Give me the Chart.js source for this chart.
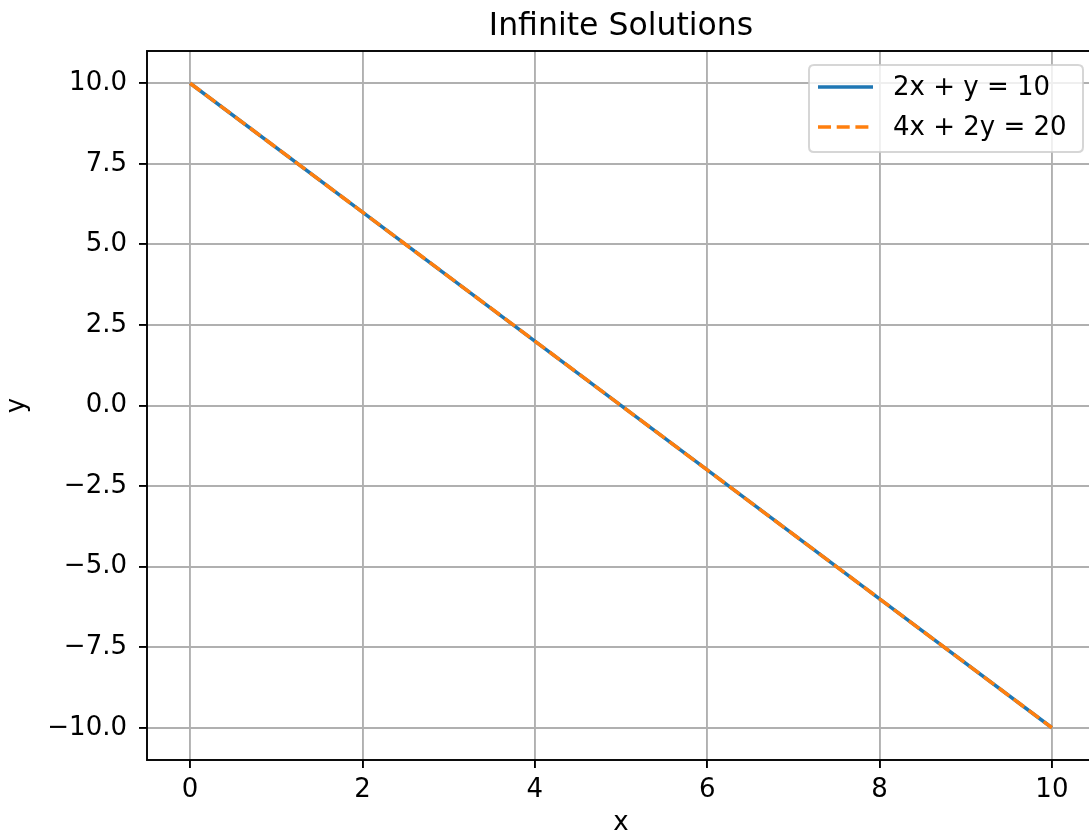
<!DOCTYPE html>
<html>
<head>
<meta charset="utf-8">
<script src="https://cdn.jsdelivr.net/npm/chart.js@4.4.1/dist/chart.umd.min.js"></script>
<style>
html, body { margin: 0; padding: 0; overflow: hidden; background: #fff; }
#wrap { position: relative; width: 1100px; height: 839px; }
</style>
</head>
<body>
<div id="wrap"><canvas id="c"></canvas></div>
<script>
// ---- data ----
const chartTitle = 'Infinite Solutions';
const xLabel = 'x';
const yLabel = 'y';
const xValues = [0, 2, 4, 6, 8, 10];
const line1Values = [10, 6, 2, -2, -6, -10];
const line2Values = [10, 6, 2, -2, -6, -10];
const seriesNames = ['2x + y = 10', '4x + 2y = 20'];
const xTicks = [0, 2, 4, 6, 8, 10];
const xTickLabels = ['0', '2', '4', '6', '8', '10'];
const yTicks = [-10, -7.5, -5, -2.5, 0, 2.5, 5, 7.5, 10];
const yTickLabels = ['\u221210.0', '\u22127.5', '\u22125.0', '\u22122.5', '0.0', '2.5', '5.0', '7.5', '10.0'];

// ---- styles ----
const FONT = 'DejaVu Sans';
const tickFont = { family: FONT, size: 26 };
const titleFont = { family: FONT, size: 31.5 };
const BLUE = '#1f77b4';
const ORANGE = '#ff7f0e';

const toPoints = (xs, ys) => xs.map((x, i) => ({ x: x, y: ys[i] }));

const framePlugin = {
  id: 'frameAndLegend',
  afterDraw(chart) {
    const ctx = chart.ctx;
    const a = chart.chartArea;
    ctx.save();
    // spines
    ctx.strokeStyle = '#000';
    ctx.lineWidth = 1.9;
    ctx.strokeRect(a.left, a.top, a.right - a.left, a.bottom - a.top);

    // title
    ctx.fillStyle = '#000';
    ctx.font = `${titleFont.size}px "${FONT}"`;
    ctx.textAlign = 'center';
    ctx.textBaseline = 'alphabetic';
    ctx.fillText(chartTitle, (a.left + a.right) / 2, a.top - 16);

    // legend
    const boxW = 274, boxH = 87;
    const bx = a.right - 12 - boxW;
    const by = a.top + 14;
    const r = 5;
    ctx.beginPath();
    ctx.moveTo(bx + r, by);
    ctx.lineTo(bx + boxW - r, by);
    ctx.quadraticCurveTo(bx + boxW, by, bx + boxW, by + r);
    ctx.lineTo(bx + boxW, by + boxH - r);
    ctx.quadraticCurveTo(bx + boxW, by + boxH, bx + boxW - r, by + boxH);
    ctx.lineTo(bx + r, by + boxH);
    ctx.quadraticCurveTo(bx, by + boxH, bx, by + boxH - r);
    ctx.lineTo(bx, by + r);
    ctx.quadraticCurveTo(bx, by, bx + r, by);
    ctx.closePath();
    ctx.fillStyle = 'rgba(255,255,255,0.8)';
    ctx.fill();
    ctx.strokeStyle = 'rgba(204,204,204,0.8)';
    ctx.lineWidth = 2;
    ctx.stroke();

    const colors = [BLUE, ORANGE];
    const dashes = [[], [13, 5.7]];
    const rows = [by + 22, by + 62];
    ctx.font = `${tickFont.size}px "${FONT}"`;
    ctx.textAlign = 'left';
    ctx.textBaseline = 'middle';
    seriesNames.forEach((name, i) => {
      ctx.beginPath();
      ctx.setLineDash(dashes[i]);
      ctx.strokeStyle = colors[i];
      ctx.lineWidth = 3.5;
      ctx.moveTo(bx + 9, rows[i]);
      ctx.lineTo(bx + 64, rows[i]);
      ctx.stroke();
      ctx.setLineDash([]);
      ctx.fillStyle = '#000';
      ctx.fillText(name, bx + 84, rows[i] + 1);
    });
    ctx.restore();
  }
};

new Chart(document.getElementById('c'), {
  type: 'line',
  data: {
    datasets: [
      {
        label: seriesNames[0],
        data: toPoints(xValues, line1Values),
        borderColor: BLUE,
        backgroundColor: BLUE,
        borderWidth: 3.5,
        pointRadius: 0,
        tension: 0,
        order: 1
      },
      {
        label: seriesNames[1],
        data: toPoints(xValues, line2Values),
        borderColor: ORANGE,
        backgroundColor: ORANGE,
        borderWidth: 3.5,
        borderDash: [13, 5.7],
        pointRadius: 0,
        tension: 0,
        order: 0
      }
    ]
  },
  options: {
    responsive: true,
    maintainAspectRatio: false,
    animation: false,
    devicePixelRatio: 1,
    layout: { padding: { top: 51, left: 0, right: 5, bottom: 0 } },
    plugins: {
      legend: { display: false },
      title: { display: false },
      tooltip: { enabled: false }
    },
    scales: {
      x: {
        type: 'linear',
        min: -0.5,
        max: 10.5,
        afterBuildTicks: (s) => { s.ticks = xTicks.map(v => ({ value: v })); },
        afterFit: (s) => { s.height = 79; },
        ticks: {
          callback: (v, i) => xTickLabels[i],
          font: tickFont,
          color: '#000',
          padding: 7,
          maxRotation: 0,
          autoSkip: false
        },
        grid: {
          color: '#b0b0b0',
          lineWidth: 1.9,
          tickLength: 8,
          tickColor: '#000',
          tickWidth: 1.9
        },
        border: { display: false },
        title: {
          display: true,
          text: xLabel,
          font: tickFont,
          color: '#000',
          padding: { top: 0, bottom: 0 }
        }
      },
      y: {
        type: 'linear',
        min: -11,
        max: 11,
        afterBuildTicks: (s) => { s.ticks = yTicks.map(v => ({ value: v })); },
        afterFit: (s) => { s.width = 147; },
        ticks: {
          callback: (v, i) => yTickLabels[i],
          font: tickFont,
          color: '#000',
          padding: 12,
          autoSkip: false
        },
        grid: {
          color: '#b0b0b0',
          lineWidth: 1.9,
          tickLength: 8,
          tickColor: '#000',
          tickWidth: 1.9
        },
        border: { display: false },
        title: {
          display: true,
          text: yLabel,
          font: tickFont,
          color: '#000',
          padding: { top: 2, bottom: 0 }
        }
      }
    }
  },
  plugins: [framePlugin]
});
</script>
</body>
</html>
